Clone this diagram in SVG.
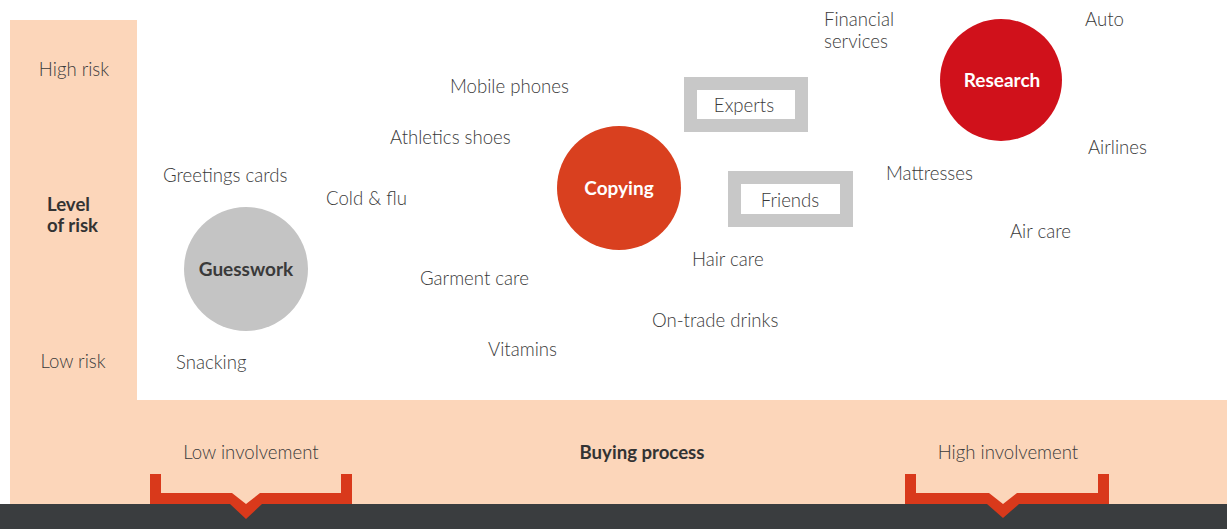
<svg xmlns="http://www.w3.org/2000/svg" width="1227" height="529" viewBox="0 0 1227 529">
  <style>
    .band { fill: #fcd6ba; }
    .lbl { font-family: Lato, "Open Sans", sans-serif; font-size: 18.6px; font-weight: 300; fill: #3a3a3a; }
    .mid { text-anchor: middle; }
    .bold { font-weight: bold; fill: #333333; }
    .node-lbl { font-family: Lato, "Open Sans", sans-serif; font-size: 19px; font-weight: bold; text-anchor: middle; }
    .frame { fill: #ffffff; stroke: #c8c8c8; stroke-width: 13; }
    .brace { fill: #d9391b; }
  </style>

  <rect width="1227" height="529" fill="#ffffff"/>

  <!-- axis bands -->
  <g id="axes">
    <rect class="band" x="10" y="20" width="127" height="484"/>
    <rect class="band" x="10" y="400" width="1217" height="104"/>
    <rect x="0" y="504" width="1227" height="25" fill="#3a3d3f"/>
    <text class="lbl mid" x="74" y="76">High risk</text>
    <text class="lbl bold" x="47" y="211">Level</text>
    <text class="lbl bold" x="47" y="232">of risk</text>
    <text class="lbl mid" x="73" y="368">Low risk</text>
    <text class="lbl mid" x="251" y="459">Low involvement</text>
    <text class="lbl mid bold" x="642" y="459">Buying process</text>
    <text class="lbl mid" x="1008" y="459">High involvement</text>
  </g>

  <!-- involvement braces -->
  <g id="braces">
    <path class="brace" d="M150 474 H161 V493 H232 L246 504 L260 493 H341 V474 H352 V504 H262 L246 519 L230 504 H150 Z"/>
    <path class="brace" d="M905 474 H916 V493 H989 L1003 504 L1017 493 H1098 V474 H1109 V504 H1019 L1003 518 L987 504 H905 Z"/>
  </g>

  <!-- strategy circles -->
  <g id="guesswork">
    <circle cx="246" cy="269" r="62" fill="#c4c4c4"/>
    <text class="node-lbl" x="246" y="276" fill="#3a3a3a">Guesswork</text>
  </g>
  <g id="copying">
    <circle cx="619" cy="188" r="62" fill="#d9401f"/>
    <text class="node-lbl" x="619" y="195" fill="#ffffff">Copying</text>
  </g>
  <g id="research">
    <circle cx="1001" cy="80" r="61" fill="#d0111b"/>
    <text class="node-lbl" x="1002" y="87" fill="#ffffff">Research</text>
  </g>

  <!-- sources boxes -->
  <g id="experts">
    <rect class="frame" x="690.5" y="83.5" width="111" height="42"/>
    <text class="lbl mid" x="744" y="112">Experts</text>
  </g>
  <g id="friends">
    <rect class="frame" x="734.5" y="177.5" width="112" height="43"/>
    <text class="lbl mid" x="790" y="207">Friends</text>
  </g>

  <!-- categories -->
  <g id="categories">
    <text class="lbl" x="163" y="182">Greetings cards</text>
    <text class="lbl" x="326" y="205">Cold &amp; flu</text>
    <text class="lbl" x="176" y="369">Snacking</text>
    <text class="lbl" x="450" y="93">Mobile phones</text>
    <text class="lbl" x="390" y="144">Athletics shoes</text>
    <text class="lbl" x="420" y="285">Garment care</text>
    <text class="lbl" x="488" y="356">Vitamins</text>
    <text class="lbl" x="692" y="266">Hair care</text>
    <text class="lbl" x="652" y="327">On-trade drinks</text>
    <text class="lbl" x="824" y="26">Financial</text>
    <text class="lbl" x="824" y="48">services</text>
    <text class="lbl" x="1085" y="26">Auto</text>
    <text class="lbl" x="1088" y="154">Airlines</text>
    <text class="lbl" x="886" y="180">Mattresses</text>
    <text class="lbl" x="1010" y="238">Air care</text>
  </g>
</svg>
